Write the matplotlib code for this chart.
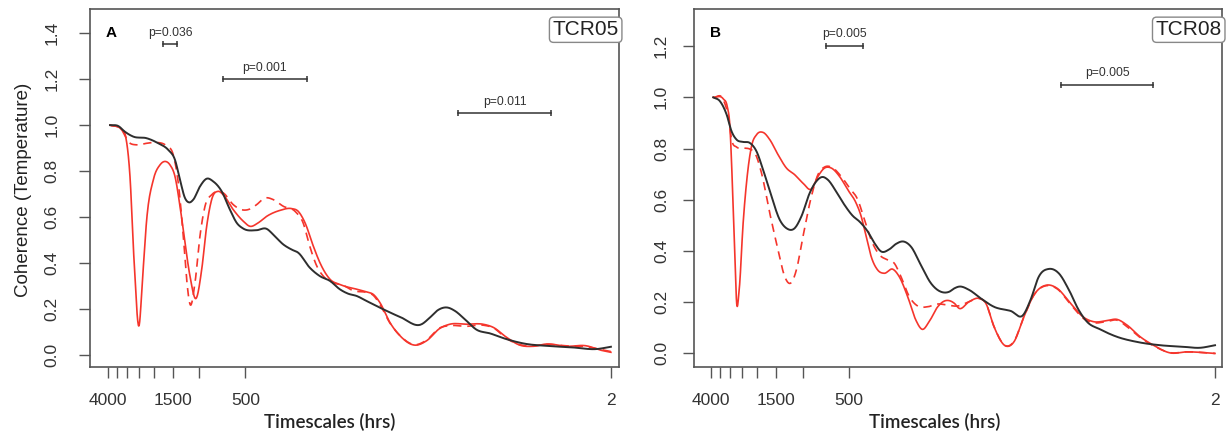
import numpy as np
import matplotlib
matplotlib.use('Agg')
import matplotlib.pyplot as plt
from matplotlib.ticker import NullLocator

plt.rcParams['font.family'] = ['Liberation Sans', 'DejaVu Sans']

# ---- Panel A (TCR05) : timescale (hrs) vs coherence ----
a_blk_t = [3863, 3409, 3081, 2718, 2220, 1863, 1602, 1448, 1342, 1245, 1172, 1098, 993, 897,
           812, 715, 631, 570, 516, 422, 363, 328, 282, 249, 225, 189, 162, 139, 120, 106,
           93.2, 80.1, 62.3, 48.4, 34.9, 30.8, 27.2, 23.9, 21.1, 18.2, 15.2, 12.4, 9.67,
           7.15, 5.29, 3.54, 2.49, 2.0]
a_blk_c = [1.0, 0.996, 0.971, 0.95, 0.943, 0.921, 0.892, 0.849, 0.762, 0.683, 0.664, 0.676,
           0.733, 0.767, 0.755, 0.712, 0.632, 0.575, 0.55, 0.543, 0.549, 0.524, 0.481, 0.459,
           0.445, 0.38, 0.343, 0.322, 0.286, 0.267, 0.257, 0.235, 0.199, 0.166, 0.134, 0.163,
           0.196, 0.207, 0.192, 0.156, 0.11, 0.094, 0.069, 0.048, 0.040, 0.033, 0.026, 0.036]

a_red_t = [3863, 3237, 3048, 2857, 2689, 2494, 2358, 2220, 2009, 1816, 1684, 1561, 1448, 1342,
           1245, 1154, 1054, 967, 897, 832, 753, 698, 600, 516, 467, 412, 363, 297, 249, 225,
           203, 179, 162, 139, 120, 103, 98.1, 80.1, 72.5, 65.5, 56.4, 48.4, 38.6, 32.4, 26.5,
           22.8, 17.7, 13.8, 11.8, 9.67, 7.91, 6.48, 5.29, 3.91, 2.89, 2.36, 2.0]
a_red_c = [1.0, 0.979, 0.95, 0.777, 0.416, 0.127, 0.343, 0.589, 0.762, 0.827, 0.842, 0.827,
           0.777, 0.647, 0.488, 0.343, 0.246, 0.372, 0.56, 0.676, 0.712, 0.697, 0.632, 0.582,
           0.56, 0.575, 0.603, 0.629, 0.637, 0.625, 0.575, 0.473, 0.401, 0.329, 0.307, 0.293,
           0.29, 0.274, 0.264, 0.228, 0.142, 0.084, 0.043, 0.062, 0.116, 0.134, 0.134, 0.134,
           0.12, 0.077, 0.043, 0.038, 0.048, 0.038, 0.040, 0.022, 0.012]

a_dsh_t = [3863, 3237, 2930, 2581, 2220, 1909, 1641, 1485, 1377, 1277, 1202, 1154, 1070, 993,
           920, 832, 753, 698, 600, 529, 467, 422, 372, 328, 282, 236, 209, 189, 170, 154, 133,
           114, 98.1, 80.1, 72.5, 65.5, 56.4, 48.4, 38.6, 32.4, 26.5, 22.8, 17.7, 13.8, 11.8,
           9.67, 7.91, 6.48, 5.29, 3.91, 2.89, 2.36, 2.0]
a_dsh_c = [1.0, 0.979, 0.928, 0.914, 0.921, 0.925, 0.909, 0.87, 0.748, 0.517, 0.30, 0.221,
           0.315, 0.517, 0.647, 0.697, 0.712, 0.705, 0.654, 0.632, 0.635, 0.654, 0.683, 0.676,
           0.647, 0.625, 0.575, 0.473, 0.387, 0.343, 0.315, 0.303, 0.28, 0.272, 0.26, 0.22,
           0.14, 0.085, 0.045, 0.065, 0.118, 0.128, 0.125, 0.13, 0.118, 0.072, 0.045, 0.04,
           0.046, 0.04, 0.036, 0.025, 0.015]

# ---- Panel B (TCR08) ----
b_blk_t = [3864, 3494, 3159, 2930, 2719, 2462, 2226, 2012, 1822, 1606, 1418, 1282, 1132, 1023,
           903, 817, 746, 686, 605, 534, 471, 426, 376, 340, 307, 271, 245, 219, 196, 169, 145,
           125, 110, 102, 94.8, 81.5, 68.4, 56.0, 43.6, 36.1, 32.3, 28.5, 24.5, 21.1, 18.1,
           15.6, 13.8, 11.3, 8.78, 6.50, 4.57, 3.22, 2.51, 2.0]
b_blk_c = [1.0, 0.985, 0.933, 0.867, 0.835, 0.826, 0.822, 0.789, 0.717, 0.613, 0.522, 0.489,
           0.489, 0.535, 0.626, 0.672, 0.689, 0.678, 0.632, 0.58, 0.537, 0.515, 0.476, 0.431,
           0.398, 0.407, 0.428, 0.437, 0.417, 0.346, 0.274, 0.241, 0.241, 0.254, 0.261, 0.248,
           0.215, 0.182, 0.166, 0.15, 0.209, 0.30, 0.33, 0.313, 0.248, 0.169, 0.124, 0.094,
           0.065, 0.045, 0.032, 0.026, 0.022, 0.032]

b_red_t = [3864, 3324, 3131, 3006, 2887, 2788, 2719, 2614, 2462, 2303, 2170, 2012, 1822, 1648,
           1454, 1282, 1132, 999, 880, 797, 721, 652, 575, 508, 448, 415, 385, 357, 324, 293,
           258, 234, 206, 182, 165, 149, 131, 119, 102, 94.8, 81.5, 70.2, 63.4, 56.0, 47.0,
           41.5, 35.7, 30.7, 25.1, 21.6, 17.7, 14.5, 12.5, 10.2, 8.78, 7.55, 6.18, 5.06, 3.93,
           3.07, 2.0]
b_red_c = [1.0, 0.994, 0.965, 0.887, 0.639, 0.378, 0.202, 0.248, 0.509, 0.705, 0.809, 0.854,
           0.863, 0.835, 0.776, 0.724, 0.698, 0.665, 0.642, 0.691, 0.724, 0.724, 0.691, 0.639,
           0.587, 0.535, 0.456, 0.378, 0.326, 0.313, 0.329, 0.30, 0.222, 0.13, 0.094, 0.124,
           0.182, 0.204, 0.196, 0.176, 0.202, 0.215, 0.196, 0.104, 0.029, 0.045, 0.143, 0.228,
           0.267, 0.254, 0.196, 0.141, 0.124, 0.128, 0.133, 0.111, 0.065, 0.032, 0.002, 0.006,
           0.0]

b_dsh_t = [3864, 3324, 3084, 2930, 2719, 2462, 2226, 2064, 1867, 1648, 1454, 1315, 1207, 1103,
           999, 880, 797, 721, 652, 561, 495, 437, 395, 357, 315, 278, 252, 228, 201, 177, 153,
           131, 113, 97.2, 81.5, 70.2, 63.4, 56.0, 47.0, 41.5, 35.7, 30.7, 25.1, 21.6, 17.7,
           14.5, 12.5, 10.2, 8.78, 7.55, 6.18, 5.06, 3.93, 3.07, 2.0]
b_dsh_c = [1.0, 0.991, 0.926, 0.835, 0.806, 0.802, 0.798, 0.783, 0.705, 0.548, 0.404, 0.30,
           0.274, 0.326, 0.456, 0.613, 0.698, 0.728, 0.728, 0.691, 0.646, 0.60, 0.522, 0.443,
           0.385, 0.365, 0.352, 0.30, 0.222, 0.185, 0.182, 0.193, 0.189, 0.185, 0.202, 0.215,
           0.196, 0.105, 0.03, 0.047, 0.143, 0.228, 0.265, 0.252, 0.192, 0.136, 0.12, 0.125,
           0.13, 0.105, 0.062, 0.03, 0.003, 0.006, 0.0]

# significance bars: (start hrs, end hrs, height, label)
a_bars = [(1728, 1398, 1.354, 'p=0.036'), (705, 198, 1.20, 'p=0.001'), (20.1, 4.95, 1.051, 'p=0.011')]
b_bars = [(710, 401, 1.20, 'p=0.005'), (20.4, 5.06, 1.05, 'p=0.005')]

xticks = [4000, 3500, 3000, 2500, 2000, 1500, 1000, 500, 2]
xticklabels = ['4000', '', '', '', '', '1500', '', '500', '2']

W, H = 1232, 440
fig = plt.figure(figsize=(W / 100, H / 100), dpi=100)
axA = fig.add_axes([90 / W, 1 - 367 / H, 529 / W, 358 / H])
axB = fig.add_axes([694 / W, 1 - 367 / H, 528 / W, 358 / H])

BLK = '#2e2e2e'
RED = '#f5352c'
GRAY = '#555555'


def smooth(t, c, n=16):
    # cubic Hermite (Catmull-Rom tangents) through the read points, in log-time
    x = -np.log10(np.asarray(t, float))
    y = np.asarray(c, float)
    m = np.gradient(y, x)
    xs, ys = [], []
    for i in range(len(x) - 1):
        h = x[i + 1] - x[i]
        s = np.linspace(0, 1, n, endpoint=False)
        h00 = 2 * s**3 - 3 * s**2 + 1
        h10 = s**3 - 2 * s**2 + s
        h01 = -2 * s**3 + 3 * s**2
        h11 = s**3 - s**2
        xs.append(x[i] + s * h)
        ys.append(h00 * y[i] + h10 * h * m[i] + h01 * y[i + 1] + h11 * h * m[i + 1])
    xs.append([x[-1]])
    ys.append([y[-1]])
    return 10 ** (-np.concatenate(xs)), np.concatenate(ys)


def setup(ax, xlim, ylim, yticks, ypad):
    ax.set_xscale('log')
    ax.set_xlim(*xlim)
    ax.set_ylim(*ylim)
    ax.set_xticks(xticks)
    ax.set_xticklabels(xticklabels)
    ax.xaxis.set_minor_locator(NullLocator())
    ax.set_yticks(yticks)
    ax.set_yticklabels(['%.1f' % v for v in yticks], rotation=90, va='center')
    ax.tick_params(axis='x', direction='out', length=8, width=1, color=GRAY,
                   labelsize=12.5, pad=11, labelcolor='#333333')
    ax.tick_params(axis='y', direction='out', length=8, width=1, color=GRAY,
                   labelsize=12.5, pad=ypad, labelcolor='#333333')
    for s in ax.spines.values():
        s.set_color(GRAY)
        s.set_linewidth(1.2)


def bars(ax, blist, dy):
    for x1, x2, y, lab in blist:
        ax.plot([x1, x2], [y, y], color='#333333', lw=1.1)
        ax.plot([x1, x2], [y, y], color='#333333', ls='none', marker='|', ms=4, mew=1.1)
        xm = np.sqrt(x1 * x2)
        ax.text(xm, y + dy, lab, ha='center', va='bottom', fontsize=8.7, color='#333333')


def draw(ax, rt, rc, dt, dc, kt, kc):
    ax.plot(*smooth(rt, rc), color=RED, lw=1.2)
    ax.plot(*smooth(dt, dc), color=RED, lw=1.2, ls=(0, (5, 3.5)))
    ax.plot(*smooth(kt, kc), color=BLK, lw=1.4)


# Panel A
draw(axA, a_red_t, a_red_c, a_dsh_t, a_dsh_c, a_blk_t, a_blk_c)
setup(axA, (5226, 1.77), (-0.052, 1.505), [0.0, 0.2, 0.4, 0.6, 0.8, 1.0, 1.2, 1.4], 14)
bars(axA, a_bars, 0.022)
axA.text(0.04, 0.932, 'A', transform=axA.transAxes, fontsize=11, fontweight='bold',
         ha='center', va='center')
axA.text(0.937, 0.942, 'TCR05', transform=axA.transAxes, fontsize=15, ha='center', va='center',
         color='#222222',
         bbox=dict(boxstyle='round,pad=0.15,rounding_size=0.2', fc='white', ec='#888888', lw=1))

# Panel B
draw(axB, b_red_t, b_red_c, b_dsh_t, b_dsh_c, b_blk_t, b_blk_c)
setup(axB, (5165, 1.80), (-0.053, 1.345), [0.0, 0.2, 0.4, 0.6, 0.8, 1.0, 1.2], 10)
bars(axB, b_bars, 0.022)
axB.text(0.04, 0.932, 'B', transform=axB.transAxes, fontsize=11, fontweight='bold',
         ha='center', va='center')
axB.text(0.937, 0.942, 'TCR08', transform=axB.transAxes, fontsize=15, ha='center', va='center',
         color='#222222',
         bbox=dict(boxstyle='round,pad=0.15,rounding_size=0.2', fc='white', ec='#888888', lw=1))

# axis titles
fig.text(24 / W, 1 - 190 / H, 'Coherence (Temperature)', rotation=90, ha='center', va='center',
         fontsize=13.5, color='#222222')
fig.text(330 / W, 1 - 422 / H, 'Timescales (hrs)', ha='center', va='center', fontsize=13.5,
         family=['Lato', 'DejaVu Sans'], fontweight='semibold', color='#222222')
fig.text(935 / W, 1 - 422 / H, 'Timescales (hrs)', ha='center', va='center', fontsize=13.5,
         family=['Lato', 'DejaVu Sans'], fontweight='semibold', color='#222222')

fig.savefig('out.png', dpi=100)
